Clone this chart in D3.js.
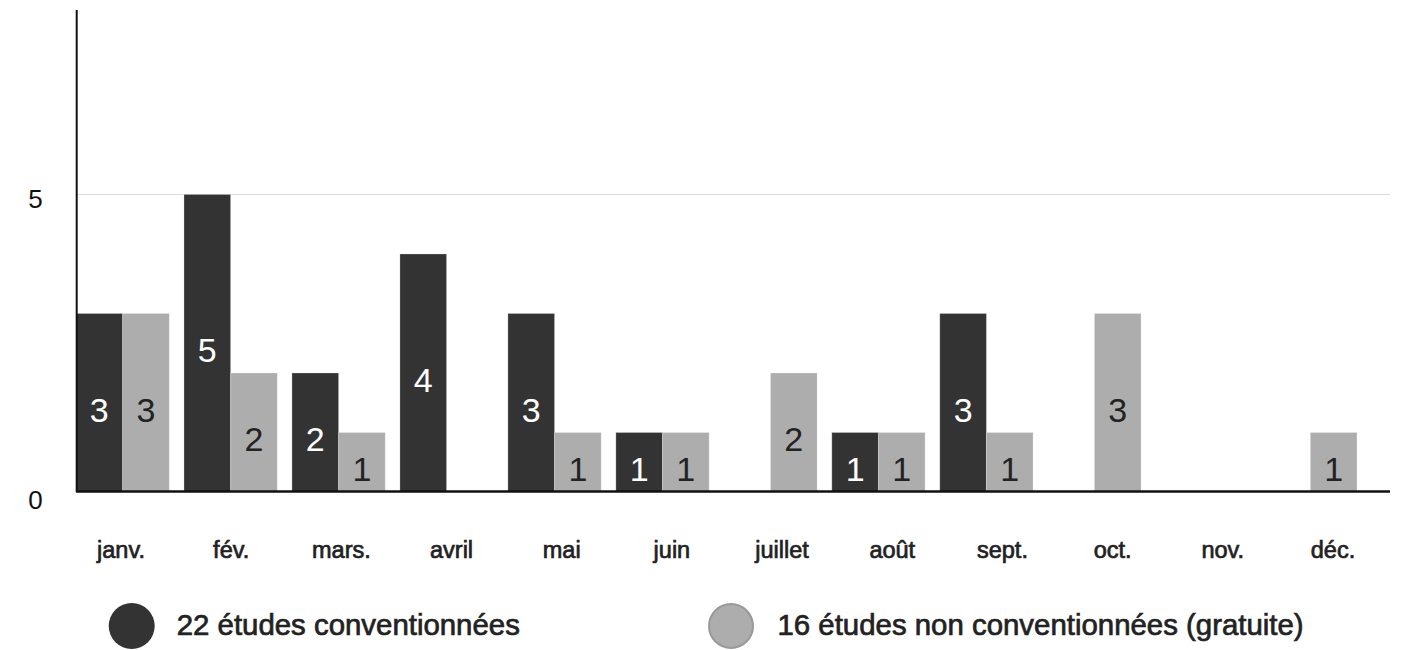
<!DOCTYPE html>
<html>
<head>
<meta charset="utf-8">
<script src="https://cdn.jsdelivr.net/npm/d3@7"></script>
<style>
  html, body { margin: 0; padding: 0; background: #fff; }
  svg { display: block; }
  text { font-family: "Liberation Sans", Arial, Helvetica, sans-serif; }
</style>
</head>
<body>
<svg id="chart" width="1407" height="650"></svg>
<script>
// ---- data ----
const months = ["janv.", "fév.", "mars.", "avril", "mai", "juin", "juillet", "août", "sept.", "oct.", "nov.", "déc."];
const conventionnees = [3, 5, 2, 4, 3, 1, 0, 1, 3, 0, 0, 0];
const nonConventionnees = [3, 2, 1, 0, 1, 1, 2, 1, 1, 3, 0, 1];
const seriesKeys = ["conv", "nonconv"];
const seriesLabels = ["22 études conventionnées", "16 études non conventionnées (gratuite)"];
const yTicks = [0, 5];

// ---- layout ----
const W = 1407, H = 650;
const plotLeft = 76, plotRight = 1390, plotTop = 10, plotBottom = 492;
const colors = { conv: "#333333", nonconv: "#adadad" };
const textColors = { conv: "#ffffff", nonconv: "#222222" };

const svg = d3.select("#chart");

const y = d3.scaleLinear().domain([0, 8.1]).range([plotBottom, plotTop]);
const x = d3.scaleBand().domain(months).range([plotLeft, 1357]).paddingInner(0.136).paddingOuter(0);
const xSub = d3.scaleBand().domain(seriesKeys).range([0, x.bandwidth()]).padding(0);
const xLabel = d3.scalePoint().domain(months).range([120.5, 1332.5]);

const rows = months.map((m, i) => ({ month: m, conv: conventionnees[i], nonconv: nonConventionnees[i] }));

// gridline at 5
svg.append("g").selectAll("line")
  .data(yTicks.filter(t => t > 0))
  .join("line")
  .attr("x1", plotLeft).attr("x2", plotRight)
  .attr("y1", d => y(d)).attr("y2", d => y(d))
  .attr("stroke", "#dddddd").attr("stroke-width", 1);

// bars
const groups = svg.append("g").selectAll("g")
  .data(rows)
  .join("g")
  .attr("transform", d => `translate(${x(d.month)},0)`);

const barData = d => seriesKeys.map(k => ({ key: k, value: d[k] })).filter(e => e.value > 0);

groups.selectAll("rect")
  .data(barData)
  .join("rect")
  .attr("x", d => xSub(d.key))
  .attr("width", xSub.bandwidth())
  .attr("y", d => y(d.value))
  .attr("height", d => y(0) - y(d.value))
  .attr("fill", d => colors[d.key])
  .attr("stroke", "rgba(255,255,255,0.25)")
  .attr("stroke-width", 1);

groups.selectAll("text")
  .data(barData)
  .join("text")
  .attr("x", d => xSub(d.key) + xSub.bandwidth() / 2)
  .attr("y", d => y(d.value / 2) + 7)
  .attr("text-anchor", "middle")
  .attr("dominant-baseline", "central")
  .attr("font-size", 34)
  .attr("fill", d => textColors[d.key])
  .text(d => d.value);

// y axis
const yAxis = svg.append("g")
  .attr("transform", `translate(${plotLeft + 0.7},0)`)
  .call(d3.axisLeft(y).tickValues(yTicks).tickSize(0).tickPadding(34).tickFormat(d3.format("d")));
yAxis.select(".domain").remove();
yAxis.selectAll("text")
  .attr("font-size", 26)
  .attr("font-family", "Liberation Sans, Arial, sans-serif")
  .attr("fill", "#111")
  .attr("dy", d => d === 0 ? "0.62em" : "0.5em");
svg.append("line")
  .attr("x1", plotLeft + 0.7).attr("x2", plotLeft + 0.7)
  .attr("y1", plotTop).attr("y2", plotBottom)
  .attr("stroke", "#111").attr("stroke-width", 2);

// x axis
const xAxis = svg.append("g")
  .attr("transform", `translate(0,${plotBottom})`)
  .call(d3.axisBottom(xLabel).tickSize(0));
xAxis.select(".domain").remove();
xAxis.selectAll("text")
  .attr("y", 66).attr("dy", 0)
  .attr("font-size", 23.5)
  .attr("font-family", "Liberation Sans, Arial, sans-serif")
  .attr("fill", "#222")
  .attr("stroke", "#222").attr("stroke-width", 0.7);
svg.append("line")
  .attr("x1", plotLeft).attr("x2", plotRight)
  .attr("y1", plotBottom - 0.5).attr("y2", plotBottom - 0.5)
  .attr("stroke", "#111").attr("stroke-width", 2.5);

// legend
const legendPos = [{ cx: 131.7, tx: 176.7 }, { cx: 731, tx: 777.5 }];
const legend = svg.append("g").selectAll("g")
  .data(seriesKeys)
  .join("g");
legend.append("circle")
  .attr("cx", (d, i) => legendPos[i].cx)
  .attr("cy", 626)
  .attr("r", (d, i) => i === 0 ? 23 : 22)
  .attr("fill", d => colors[d])
  .attr("stroke", (d, i) => i === 0 ? "none" : "#999")
  .attr("stroke-width", 2);
legend.append("text")
  .attr("x", (d, i) => legendPos[i].tx)
  .attr("y", 635)
  .attr("font-size", 29.4)
  .attr("fill", "#222")
  .attr("stroke", "#222").attr("stroke-width", 0.7)
  .text((d, i) => seriesLabels[i]);
</script>
</body>
</html>
